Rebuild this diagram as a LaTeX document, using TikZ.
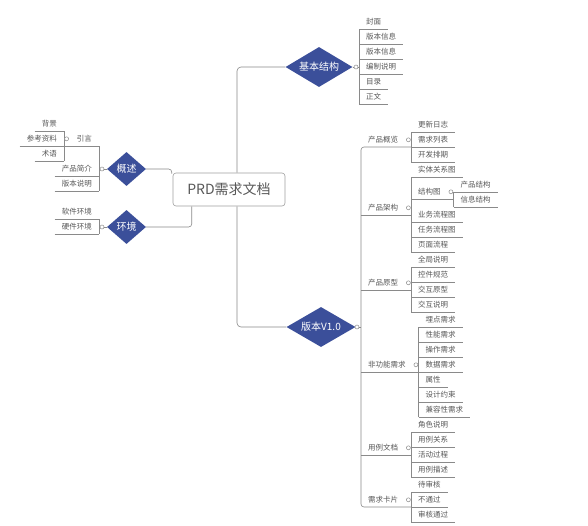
\documentclass[tikz,border=0pt]{standalone}
\usepackage{fontspec}
\setmainfont{Noto Sans CJK SC}
\usetikzlibrary{shapes.geometric,calc}
\pgfdeclarelayer{bg}
\pgfdeclarelayer{paper}
\pgfsetlayers{paper,bg,main}
\definecolor{linec}{HTML}{8A8A8A}
\definecolor{txtc}{HTML}{585858}
\definecolor{diac}{HTML}{3B4F9A}
\definecolor{boxc}{HTML}{A0A0A0}
\newcommand\myleaffont{\fontsize{7.5pt}{9pt}\selectfont}
\newcommand\mydiafont{\fontsize{10pt}{12pt}\selectfont}
\newcommand\myrootfont{\fontsize{14pt}{16pt}\selectfont}
\tikzset{
  ln/.style={draw=linec, line width=0.6pt},
  lf/.style={font=\myleaffont, text=txtc, inner xsep=7pt, inner ysep=0pt,
    minimum height=14pt, text height=6.6pt, text depth=0.9pt},
  leafr/.style={lf, anchor=south west},
  leafl/.style={lf, anchor=south east},
  dia/.style={diamond, fill=diac, text=white, font=\mydiafont, inner sep=0pt, aspect=1.7},
  knob/.style={circle, draw=linec, fill=white, line width=0.5pt, minimum size=4pt, inner sep=0pt},
  rootbox/.style={rectangle, rounded corners=3pt, draw=boxc, fill=white, line width=0.6pt,
    minimum width=112pt, minimum height=33pt, font=\myrootfont, text=txtc}
}
\begin{document}
\begin{tikzpicture}[x=1pt,y=-1pt]
\useasboundingbox (0,0) rectangle (588,525);
\begin{pgfonlayer}{paper}
  \fill[white] (0,0) rectangle (588,525);
\end{pgfonlayer}

% main nodes
\node[rootbox] (prd) at (229,189.5) {PRD需求文档};
\node[dia, minimum width=67pt, minimum height=40pt] (jb) at (319,67) {基本结构};
\node[dia, minimum width=69pt, minimum height=40pt] (v1) at (321,327) {版本V1.0};
\node[dia, minimum width=39pt, minimum height=34pt] (gs) at (126.5,169) {概述};
\node[dia, minimum width=39pt, minimum height=34pt] (hj) at (126.5,227) {环境};

% basic structure
\node[leafr] (jb1) at (359,29) {封面};
\node[leafr] (jb2) at (359,44) {版本信息};
\node[leafr] (jb3) at (359,59) {版本信息};
\node[leafr] (jb4) at (359,74) {编制说明};
\node[leafr] (jb5) at (359,89) {目录};
\node[leafr] (jb6) at (359,104) {正文};
\node[knob] (jbk) at (356,67) {};

% version V1.0 level 2
\node[knob] (v1k) at (357,327) {};
\node[leafr] (gl) at (361,147) {产品概览};
\node[leafr] (jg) at (361,215) {产品架构};
\node[leafr] (yx) at (361,290) {产品原型};
\node[leafr] (fg) at (361,372) {非功能需求};
\node[leafr] (yl) at (361,455) {用例文档};
\node[leafr] (kp) at (361,507) {需求卡片};
\foreach \n in {gl,jg,yx,fg,yl,kp}{
  \coordinate (\n-br) at ($(\n.south east)+(6,0)$);
  \node[knob] (\n-kn) at ($(\n.east)+(3,0)$) {};
}

% 产品概览
\node[leafr] (gl1) at (411,132) {更新日志};
\node[leafr] (gl2) at (411,147) {需求列表};
\node[leafr] (gl3) at (411,162) {开发排期};
% 产品架构
\node[leafr] (jg1) at (411,177) {实体关系图};
\node[leafr] (jg2) at (411,199) {结构图};
\node[leafr] (jg3) at (411,222) {业务流程图};
\node[leafr] (jg4) at (411,237) {任务流程图};
\node[leafr] (jg5) at (411,252) {页面流程};
\coordinate (jg2-br) at ($(jg2.south east)+(6,0)$);
\node[knob] (jg2-kn) at ($(jg2.east)+(3,0)$) {};
\node[leafr] (jgs1) at (453.5,192) {产品结构};
\node[leafr] (jgs2) at (453.5,207) {信息结构};
% 产品原型
\node[leafr] (yx1) at (411,267) {全局说明};
\node[leafr] (yx2) at (411,282) {控件规范};
\node[leafr] (yx3) at (411,297) {交互原型};
\node[leafr] (yx4) at (411,312) {交互说明};
% 非功能需求
\node[leafr] (fg1) at (418.5,327) {埋点需求};
\node[leafr] (fg2) at (418.5,342) {性能需求};
\node[leafr] (fg3) at (418.5,357) {操作需求};
\node[leafr] (fg4) at (418.5,372) {数据需求};
\node[leafr] (fg5) at (418.5,387) {属性};
\node[leafr] (fg6) at (418.5,402) {设计约束};
\node[leafr] (fg7) at (418.5,417) {兼容性需求};
% 用例文档
\node[leafr] (yl1) at (411,432) {角色说明};
\node[leafr] (yl2) at (411,447) {用例关系};
\node[leafr] (yl3) at (411,462) {活动过程};
\node[leafr] (yl4) at (411,477) {用例描述};
% 需求卡片
\node[leafr] (kp1) at (411,492) {待审核};
\node[leafr] (kp2) at (411,507) {不通过};
\node[leafr] (kp3) at (411,522) {审核通过};

% left: 概述
\node[knob] (gsk) at (102,169) {};
\node[leafl] (yy) at (99,146) {引言};
\node[leafl] (gs2) at (99,176) {产品简介};
\node[leafl] (gs3) at (99,191) {版本说明};
\coordinate (yy-br) at ($(yy.south west)+(-6,0)$);
\node[knob] (yy-kn) at ($(yy.west)+(-3,0)$) {};
\node[leafl] (yy1) at (64,131) {背景};
\node[leafl] (yy2) at (64,146) {参考资料};
\node[leafl] (yy3) at (64,161) {术语};
% left: 环境
\node[knob] (hjk) at (102,227) {};
\node[leafl] (hj1) at (99,219) {软件环境};
\node[leafl] (hj2) at (99,234) {硬件环境};

\begin{pgfonlayer}{bg}
  % root connectors
  \draw[ln, rounded corners=4pt] ($(prd.north)+(8,0)$) |- (jb.west);
  \draw[ln, rounded corners=4pt] ($(prd.south)+(8,0)$) |- (v1.west);
  \draw[ln, rounded corners=3pt] (gs.east) -| ($(prd.north west)+(-1,1)$);
  \draw[ln, rounded corners=3pt] (hj.east) -| ($(prd.south west)+(19,0)$);
  % basic structure
  \draw[ln] (jb.east) -- (jb.east -| jb1.south west);
  \draw[ln] (jb1.south west) -- (jb6.south west);
  \foreach \n in {jb1,jb2,jb3,jb4,jb5,jb6}
    \draw[ln] (\n.south west) -- (\n.south east);
  % V1.0 trunk
  \draw[ln] (v1.east) -- (v1.east -| gl.south west);
  \draw[ln, rounded corners=3pt] (gl-br) -- (gl.south west) -- (kp.south west) -- (kp-br);
  \foreach \n in {jg,yx,fg,yl}
    \draw[ln] (\n.south west) -- (\n-br);
  \draw[ln] (jg2.south west) -- (jg2-br);
  % brackets
  \draw[ln] (gl1.south west) -- (gl3.south west);
  \draw[ln] (jg1.south west) -- (jg5.south west);
  \draw[ln] (jgs1.south west) -- (jgs2.south west);
  \draw[ln] (yx1.south west) -- (yx4.south west);
  \draw[ln] (fg1.south west) -- (fg7.south west);
  \draw[ln] (yl1.south west) -- (yl4.south west);
  \draw[ln] (kp1.south west) -- (kp3.south west);
  \foreach \n in {gl1,gl2,gl3,jg1,jg3,jg4,jg5,jgs1,jgs2,yx1,yx2,yx3,yx4,
                  fg1,fg2,fg3,fg4,fg5,fg6,fg7,yl1,yl2,yl3,yl4,kp1,kp2,kp3}
    \draw[ln] (\n.south west) -- (\n.south east);
  % left side
  \draw[ln] (gs.west) -- (gs.west -| yy.south east);
  \draw[ln] (yy.south east) -- (gs3.south east);
  \draw[ln] (yy-br) -- (yy.south east);
  \draw[ln] (yy1.south east) -- (yy3.south east);
  \draw[ln] (hj.west) -- (hj.west -| hj1.south east);
  \draw[ln] (hj1.south east) -- (hj2.south east);
  \foreach \n in {gs2,gs3,yy1,yy2,yy3,hj1,hj2}
    \draw[ln] (\n.south west) -- (\n.south east);
\end{pgfonlayer}
\end{tikzpicture}
\end{document}
